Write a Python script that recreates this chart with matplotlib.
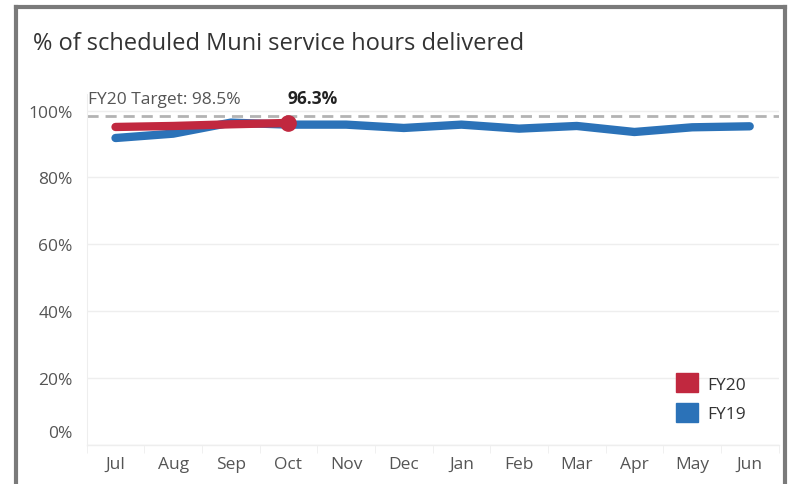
import matplotlib.pyplot as plt
import numpy as np
from matplotlib.patches import Patch
from matplotlib.lines import Line2D
from matplotlib.transforms import ScaledTranslation

months = ['Jul', 'Aug', 'Sep', 'Oct', 'Nov', 'Dec', 'Jan', 'Feb', 'Mar', 'Apr', 'May', 'Jun']
fy19 = [91.8, 93.1, 96.4, 95.8, 95.8, 94.8, 95.8, 94.6, 95.4, 93.6, 95.0, 95.3]
fy20 = [95.1, 95.4, 95.9, 96.3]
target = 98.5
yticks = [0, 20, 40, 60, 80, 100]

red = '#C1283F'
blue = '#2B72B8'
plt.rcParams['font.family'] = ['Open Sans', 'DejaVu Sans']

fig = plt.figure(figsize=(7.88, 4.85), dpi=100)
ax = fig.add_axes([0.110, 0.0804, 0.878, 0.724])

x = np.arange(len(months))
ax.axhline(target, color='#b3b3b3', lw=2, ls=(0, (4, 2.5)), zorder=1)
ax.plot(x, fy19, color=blue, lw=6, solid_capstyle='round', solid_joinstyle='round', zorder=3)
ax.plot(x[:len(fy20)], fy20, color=red, lw=6, solid_capstyle='round', solid_joinstyle='round', zorder=4)
ax.plot(x[len(fy20) - 1], fy20[-1], 'o', color=red, ms=11, zorder=5)

ax.set_xlim(-0.5, len(months) - 0.5)
ax.set_ylim(0, 105)
ax.set_yticks(yticks)
ax.set_yticklabels([f'{v}%' for v in yticks])
ax.set_xticks(x)
ax.set_xticklabels(months)
ax.set_xticks(np.arange(-0.5, len(months)), minor=True)
ax.tick_params(axis='x', which='major', length=0, pad=8, labelsize=12.5, colors='#555555')
ax.tick_params(axis='x', which='minor', length=6, color='#eeeeee')
ax.tick_params(axis='y', length=0, pad=10, labelsize=12.5, colors='#555555')
lbl0 = ax.get_yticklabels()[0]
lbl0.set_transform(lbl0.get_transform() + ScaledTranslation(0, 0.14, fig.dpi_scale_trans))
ax.grid(axis='y', color='#eeeeee', lw=1)
ax.set_axisbelow(True)
for s in ['top', 'right', 'bottom']:
    ax.spines[s].set_visible(False)
ax.spines['left'].set_color('#eeeeee')
ax.axhline(0, color='#eeeeee', lw=1, zorder=0, clip_on=False)

ax.text(-0.47, 101.0, 'FY20 Target: 98.5%', fontsize=12.5, color='#555555', va='bottom')
ax.text(2.98, 101.0, f'{fy20[-1]}%', fontsize=12.5, color='#222222', fontweight='bold', va='bottom')

handles = [Patch(color=red, label='FY20'), Patch(color=blue, label='FY19')]
ax.legend(handles=handles, loc='lower right', bbox_to_anchor=(0.975, 0.02), frameon=False,
          handlelength=1.3, handleheight=1.3, handletextpad=0.5, labelspacing=0.6,
          fontsize=12.5, labelcolor='#333333')

fig.text(33 / 788, 1 - 44 / 485, '% of scheduled Muni service hours delivered', fontsize=17,
         color='#333333', va='center')

# outer frame
fig.add_artist(Line2D([16 / 788, 16 / 788], [0, 1 - 8 / 485], color='#7a7a7a', lw=3))
fig.add_artist(Line2D([16 / 788, 785 / 788], [1 - 8 / 485, 1 - 8 / 485], color='#7a7a7a', lw=3))
fig.add_artist(Line2D([785 / 788, 785 / 788], [0, 1 - 8 / 485], color='#7a7a7a', lw=3))

plt.savefig('out.png', dpi=100)
